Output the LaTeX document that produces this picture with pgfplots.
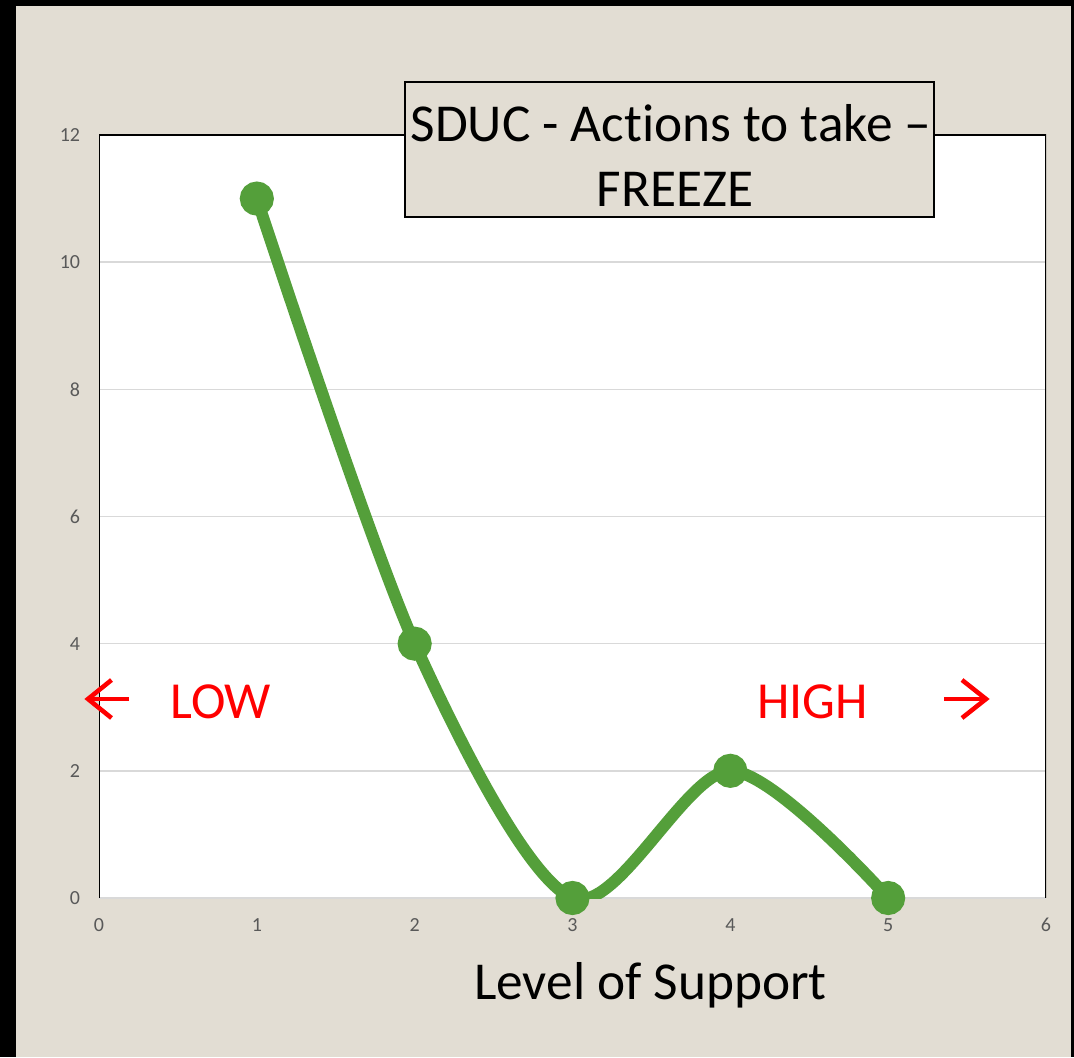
\documentclass[border=0pt]{standalone}
\usepackage{fontspec}
\setmainfont{Carlito}[Ligatures=NoCommon]
\usepackage{pgfplots}
\pgfplotsset{compat=1.18}

\definecolor{bgbeige}{HTML}{E2DDD3}
\definecolor{linegreen}{HTML}{549F3A}
\definecolor{ticktext}{HTML}{595959}
\definecolor{gridgray}{HTML}{D9D9D9}

\begin{document}
\begin{tikzpicture}[x=0.75pt,y=0.75pt]
% page background and dark frame (pixel units, y up)
\fill[bgbeige] (0,0) rectangle (1074,1057);
\fill[black] (0,0) rectangle (16,1057);
\fill[black] (0,1051) rectangle (1074,1057);
\fill[black] (1071,0) rectangle (1074,1057);

\begin{axis}[
    at={(74.25pt,119.25pt)}, anchor=south west,
    scale only axis,
    width=710.25pt, height=572.25pt,
    xmin=0, xmax=6, ymin=0, ymax=12,
    xtick={0,1,...,6}, ytick={0,2,...,12},
    major tick length=0pt,
    axis line style={draw=none},
    axis background/.style={fill=white},
    ymajorgrids,
    grid style={gridgray, line width=1.1pt},
    tick label style={font=\fontsize{15}{18}\selectfont, text=ticktext, inner sep=0pt},
    xticklabel style={anchor=north, yshift=-15pt},
    yticklabel style={anchor=east, xshift=-14pt},
    /pgf/number format/assume math mode=true,
]
\draw[gridgray, line width=1.5pt] (axis cs:0,0) -- (axis cs:6,0);
\draw[black, line width=1.1pt] (axis cs:0,0) -- (axis cs:0,12) -- (axis cs:6,12) -- (axis cs:6,0);

\addplot[linegreen, line width=9pt, smooth, tension=0.5,
    mark=*, mark size=8.25pt, mark options={fill=linegreen, draw=none}]
    coordinates {(1,11) (2,4) (3,0) (4,2) (5,0)};
\end{axis}

% title box
\draw[black, line width=1.1pt, fill=bgbeige] (405,{1057-217}) rectangle (934,{1057-82});
\node[anchor=base, inner sep=0pt, font=\fontsize{40}{48}\selectfont] at (671,{1057-142}) {SDUC - Actions to take –};
\node[anchor=base, inner sep=0pt, font=\fontsize{40}{48}\selectfont] at (675,{1057-207}) {FREEZE};

% LOW / HIGH annotations
\node[anchor=base west, inner sep=0pt, text=red, font=\fontsize{39}{46}\selectfont] at (170,{1057-719}) {LOW};
\node[anchor=base west, inner sep=0pt, text=red, font=\fontsize{39}{46}\selectfont] at (757,{1057-719}) {HIGH};
\draw[red, line width=3.4pt] (129,{1057-699}) -- (89,{1057-699});
\draw[red, line width=3.4pt, line join=miter] (111.5,{1057-680}) -- (88,{1057-699}) -- (111.5,{1057-718});
\draw[red, line width=3.4pt] (944,{1057-699}) -- (985,{1057-699});
\draw[red, line width=3.4pt, line join=miter] (962,{1057-680}) -- (986,{1057-699}) -- (962,{1057-718});

% axis title
\node[anchor=base, inner sep=0pt, font=\fontsize{40}{48}\selectfont] at (650.5,{1057-999}) {Level of Support};
\end{tikzpicture}
\end{document}
